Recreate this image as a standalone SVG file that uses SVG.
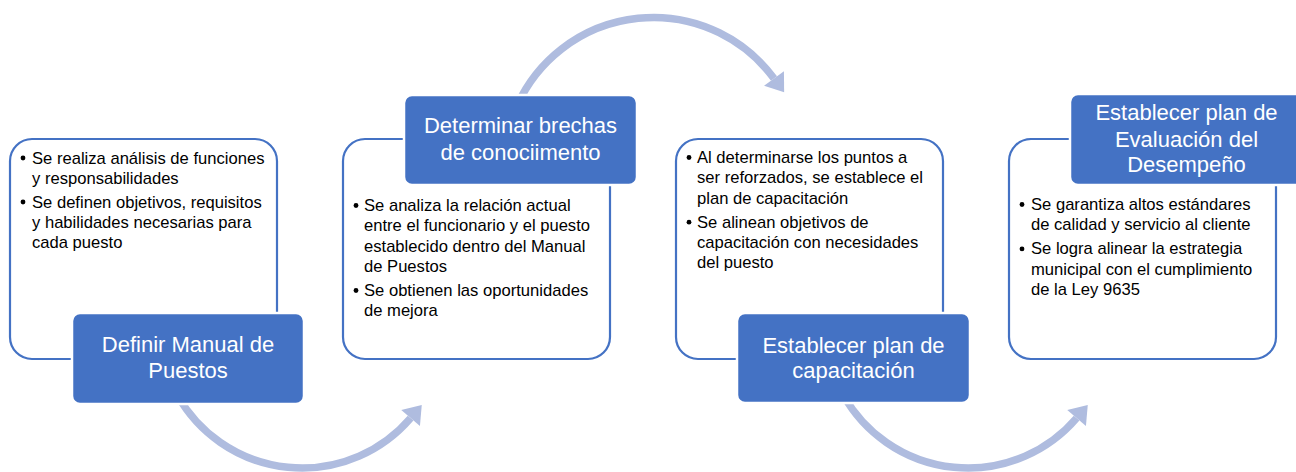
<svg xmlns="http://www.w3.org/2000/svg" width="1296" height="472" viewBox="0 0 1296 472">
  <style>
    .card { fill: #ffffff; stroke: #4472C4; stroke-width: 2.2; }
    .head { fill: #4472C4; stroke: #ffffff; stroke-width: 2.5; }
    .ht { font-family: "Liberation Sans", Arial, sans-serif; font-size: 22px; fill: #ffffff; text-anchor: middle; }
    .bt { font-family: "Liberation Sans", Arial, sans-serif; font-size: 16.6px; fill: #000000; }
    .dot { fill: #000000; }
    .arc { fill: none; stroke: #AFBCDF; stroke-width: 7.5; }
  </style>
  <defs>
    <marker id="ah" markerUnits="userSpaceOnUse" markerWidth="30" markerHeight="30" refX="0" refY="0" viewBox="-2 -14 20 28" orient="auto" overflow="visible">
      <path d="M0,-11.5 L16,0 L0,11.5 Z" fill="#AFBCDF"/>
    </marker>
  </defs>
  <rect width="1296" height="472" fill="#ffffff"/>

  <g id="connectors">
    <path class="arc" d="M177.3,395 A143,143 0 0 0 410.6,418.1" marker-end="url(#ah)"/>
    <path class="arc" d="M517.3,105 A149.6,149.6 0 0 1 774,78.5" marker-end="url(#ah)"/>
    <path class="arc" d="M843.3,395 A143,143 0 0 0 1076.6,418.1" marker-end="url(#ah)"/>
  </g>

  <g id="node1">
    <rect class="card" x="10" y="139" width="267" height="220" rx="22"/>
    <circle class="dot" cx="23" cy="158" r="2.4"/>
    <text class="bt" x="32" y="163.5">Se realiza análisis de funciones</text>
    <text class="bt" x="32" y="183.7">y responsabilidades</text>
    <circle class="dot" cx="23" cy="202" r="2.4"/>
    <text class="bt" x="32" y="207.5">Se definen objetivos, requisitos</text>
    <text class="bt" x="32" y="227.7">y habilidades necesarias para</text>
    <text class="bt" x="32" y="247.9">cada puesto</text>
    <rect class="head" x="72" y="313" width="232" height="91" rx="8"/>
    <text class="ht" x="188" y="352">Definir Manual de</text>
    <text class="ht" x="188" y="378">Puestos</text>
  </g>

  <g id="node2">
    <rect class="card" x="343" y="139" width="267" height="220" rx="22"/>
    <rect class="head" x="404" y="95" width="233" height="90" rx="8"/>
    <text class="ht" x="520.5" y="133">Determinar brechas</text>
    <text class="ht" x="520.5" y="160">de conociimento</text>
    <circle class="dot" cx="356" cy="205.5" r="2.4"/>
    <text class="bt" x="364" y="211">Se analiza la relación actual</text>
    <text class="bt" x="364" y="231.3">entre el funcionario y el puesto</text>
    <text class="bt" x="364" y="251.6">establecido dentro del Manual</text>
    <text class="bt" x="364" y="271.9">de Puestos</text>
    <circle class="dot" cx="356" cy="290.5" r="2.4"/>
    <text class="bt" x="364" y="296">Se obtienen las oportunidades</text>
    <text class="bt" x="364" y="316.3">de mejora</text>
  </g>

  <g id="node3">
    <rect class="card" x="676" y="139" width="267" height="220" rx="22"/>
    <circle class="dot" cx="689" cy="157.5" r="2.4"/>
    <text class="bt" x="697" y="163">Al determinarse los puntos a</text>
    <text class="bt" x="697" y="183.3">ser reforzados, se establece el</text>
    <text class="bt" x="697" y="203.6">plan de capacitación</text>
    <circle class="dot" cx="689" cy="222.2" r="2.4"/>
    <text class="bt" x="697" y="227.7">Se alinean objetivos de</text>
    <text class="bt" x="697" y="248">capacitación con necesidades</text>
    <text class="bt" x="697" y="268.3">del puesto</text>
    <rect class="head" x="737" y="313" width="233" height="90" rx="8"/>
    <text class="ht" x="853.5" y="353">Establecer plan de</text>
    <text class="ht" x="853.5" y="378">capacitación</text>
  </g>

  <g id="node4">
    <rect class="card" x="1009" y="139" width="267" height="220" rx="22"/>
    <rect class="head" x="1070" y="94" width="240" height="91" rx="8"/>
    <text class="ht" x="1186.5" y="120">Establecer plan de</text>
    <text class="ht" x="1186.5" y="146.5">Evaluación del</text>
    <text class="ht" x="1186.5" y="172">Desempeño</text>
    <circle class="dot" cx="1022" cy="204.5" r="2.4"/>
    <text class="bt" x="1031" y="210">Se garantiza altos estándares</text>
    <text class="bt" x="1031" y="230.3">de calidad y servicio al cliente</text>
    <circle class="dot" cx="1022" cy="248.9" r="2.4"/>
    <text class="bt" x="1031" y="254.4">Se logra alinear la estrategia</text>
    <text class="bt" x="1031" y="274.7">municipal con el cumplimiento</text>
    <text class="bt" x="1031" y="295">de la Ley 9635</text>
  </g>
</svg>
